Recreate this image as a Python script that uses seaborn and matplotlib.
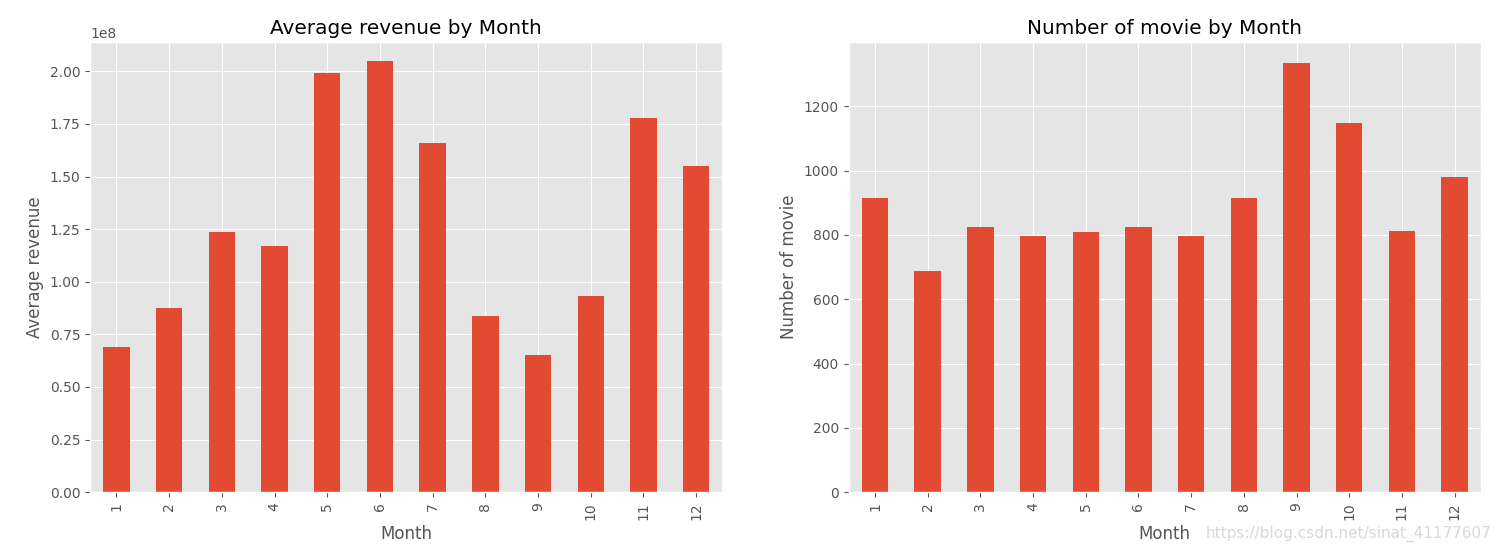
import pandas as pd
import seaborn as sns
import matplotlib.pyplot as plt

# Values
months = [1, 2, 3, 4, 5, 6, 7, 8, 9, 10, 11, 12]
avg_revenue = [0.689e8, 0.874e8, 1.235e8, 1.169e8, 1.99e8, 2.047e8,
               1.658e8, 0.836e8, 0.651e8, 0.931e8, 1.777e8, 1.549e8]
movie_count = [916, 687, 823, 798, 810, 826, 798, 916, 1333, 1148, 813, 980]

df = pd.DataFrame({'Month': months,
                   'Average revenue': avg_revenue,
                   'Number of movie': movie_count})

plt.style.use('ggplot')
bar_color = '#E24A33'

fig = plt.figure(figsize=(15.02, 5.53), dpi=100)
ax1 = fig.add_axes([0.060, 0.110, 0.421, 0.814])
ax2 = fig.add_axes([0.565, 0.110, 0.421, 0.814])

sns.barplot(data=df, x='Month', y='Average revenue', color=bar_color,
            saturation=1, width=0.5, ax=ax1)
ax1.set_title('Average revenue by Month')

sns.barplot(data=df, x='Month', y='Number of movie', color=bar_color,
            saturation=1, width=0.5, ax=ax2)
ax2.set_title('Number of movie by Month')

for ax in (ax1, ax2):
    ax.set_xlim(-0.5, 11.5)
    ax.tick_params(axis='x', labelrotation=90)
    ax.grid(True, axis='both', color='white')
    ax.set_axisbelow(True)

ax1.set_ylim(0, 2.047e8 * 1.045)
ax2.set_ylim(0, 1333 * 1.05)

fig.text(0.993, 0.02, 'https://blog.csdn.net/sinat_41177607', ha='right',
         va='bottom', color='#d8d8d8', fontsize=11)

plt.savefig('out.png', dpi=100)
